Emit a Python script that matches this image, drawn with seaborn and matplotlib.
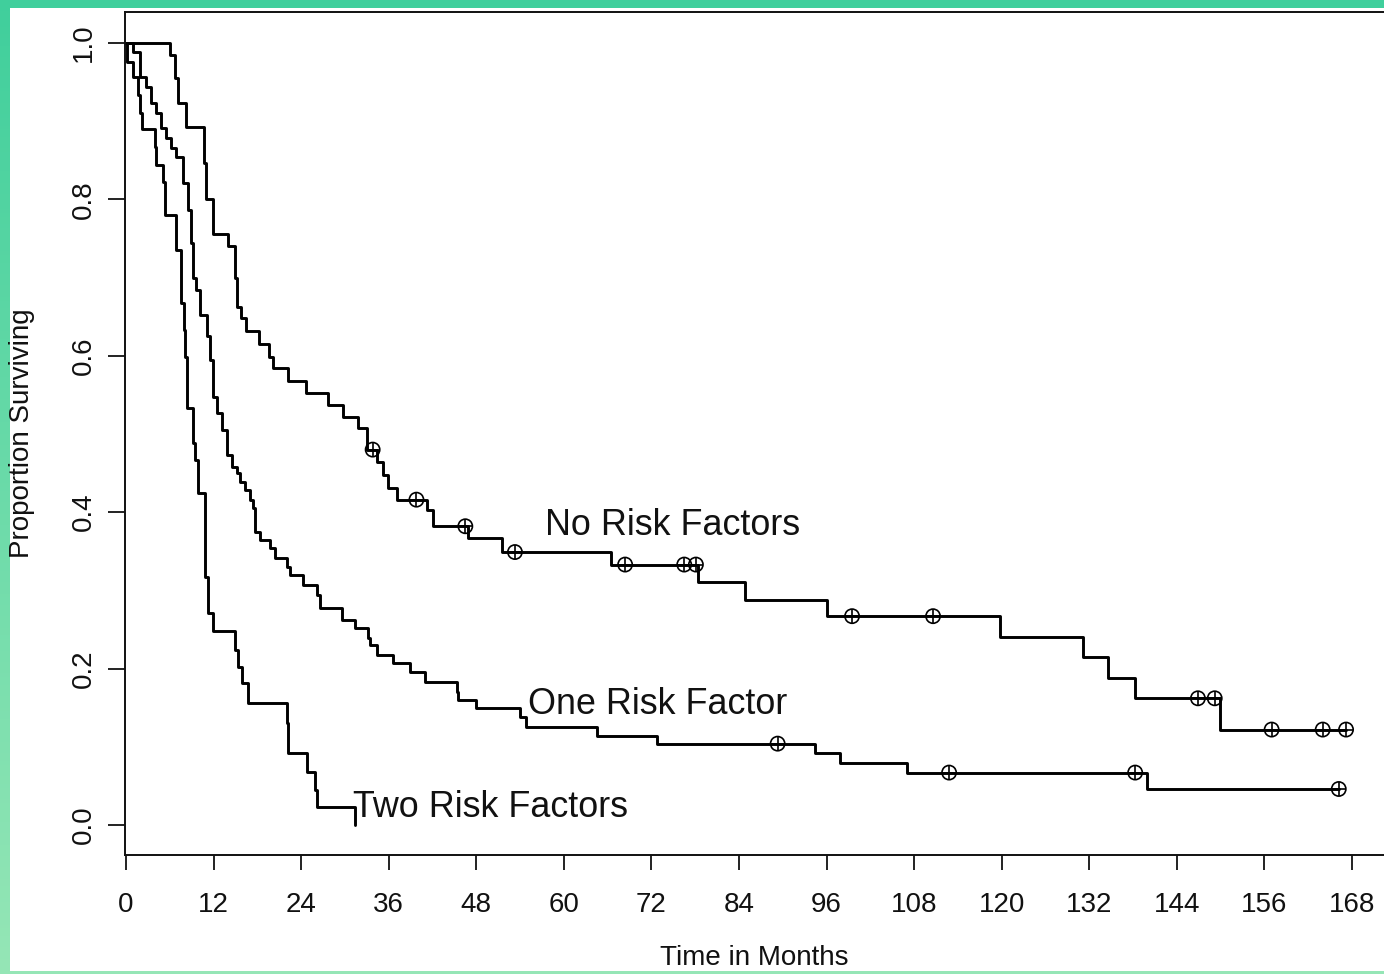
import numpy as np
import pandas as pd
import matplotlib
matplotlib.use('Agg')
import matplotlib.pyplot as plt
import seaborn as sns
from matplotlib.patches import Rectangle

# Kaplan-Meier steps (months, proportion surviving)
none_time = [0, 6.0, 6.7, 7.1, 8.2, 10.7, 11.0, 11.9, 14.0, 14.9, 15.2, 15.8, 16.5,
             18.2, 19.6, 20.1, 22.2, 24.7, 27.7, 29.7, 31.8, 33.0, 34.4, 35.2, 35.9,
             37.1, 41.2, 42.1, 46.9, 51.5, 66.5, 78.4, 84.8, 96.1, 119.8, 131.1,
             134.6, 138.3, 149.9, 167.2]
none_surv = [1.0, 0.985, 0.955, 0.923, 0.893, 0.846, 0.80, 0.756, 0.74, 0.70, 0.662,
             0.648, 0.632, 0.615, 0.599, 0.584, 0.568, 0.552, 0.537, 0.522, 0.508,
             0.480, 0.464, 0.447, 0.431, 0.416, 0.403, 0.382, 0.367, 0.349, 0.333,
             0.311, 0.288, 0.267, 0.241, 0.215, 0.188, 0.162, 0.122, 0.122]
none_cens_time = [33.8, 39.8, 46.5, 53.3, 68.4, 76.5, 78.1, 99.5, 110.6, 146.9,
                  149.2, 157.0, 164.0, 167.2]
none_cens_surv = [0.480, 0.416, 0.382, 0.349, 0.333, 0.333, 0.333, 0.267, 0.267,
                  0.162, 0.162, 0.122, 0.122, 0.122]

one_time = [0, 1.0, 1.9, 2.7, 3.4, 4.1, 4.8, 5.5, 6.2, 6.8, 7.8, 8.5, 8.9, 9.2, 9.6,
            10.1, 11.1, 11.5, 11.9, 12.5, 13.2, 13.8, 14.5, 15.2, 15.6, 16.3, 17.0,
            17.4, 17.7, 18.4, 19.7, 20.4, 22.1, 22.5, 24.3, 26.2, 26.6, 29.6, 31.4,
            33.2, 33.4, 34.4, 36.6, 38.9, 41.0, 45.3, 45.5, 47.9, 54.0, 54.8, 64.5,
            72.8, 94.4, 97.8, 107.0, 139.9, 166.2]
one_surv = [1.0, 0.988, 0.957, 0.944, 0.923, 0.910, 0.891, 0.878, 0.866, 0.854,
            0.821, 0.786, 0.744, 0.70, 0.684, 0.652, 0.625, 0.595, 0.547, 0.527,
            0.505, 0.473, 0.458, 0.450, 0.439, 0.428, 0.416, 0.405, 0.375, 0.364,
            0.354, 0.341, 0.330, 0.320, 0.307, 0.294, 0.277, 0.262, 0.252, 0.239,
            0.230, 0.217, 0.207, 0.196, 0.183, 0.170, 0.160, 0.149, 0.138, 0.125,
            0.114, 0.104, 0.092, 0.079, 0.067, 0.046, 0.046]
one_cens_time = [89.3, 112.8, 138.3, 166.2]
one_cens_surv = [0.104, 0.067, 0.067, 0.046]

two_time = [0, 0.1, 1.0, 1.6, 1.9, 2.2, 4.0, 4.1, 5.1, 5.3, 6.8, 7.5, 7.9, 8.1, 8.4,
            9.2, 9.5, 9.9, 10.8, 11.2, 11.9, 14.9, 15.3, 15.9, 16.7, 22.0, 22.2,
            24.8, 25.9, 26.2, 31.4]
two_surv = [1.0, 0.976, 0.957, 0.933, 0.910, 0.890, 0.867, 0.844, 0.822, 0.780,
            0.735, 0.668, 0.633, 0.599, 0.533, 0.488, 0.467, 0.424, 0.317, 0.271,
            0.248, 0.224, 0.202, 0.182, 0.156, 0.130, 0.092, 0.068, 0.045, 0.023, 0.0]

groups = ['No Risk Factors', 'One Risk Factor', 'Two Risk Factors']
label_x = [57.4, 55.1, 31.1]
label_y = [0.383, 0.154, 0.022]
x_ticks = list(range(0, 169, 12))
y_ticks = [0.0, 0.2, 0.4, 0.6, 0.8, 1.0]

curves = pd.concat([
    pd.DataFrame({'month': none_time, 'surv': none_surv, 'group': groups[0]}),
    pd.DataFrame({'month': one_time, 'surv': one_surv, 'group': groups[1]}),
    pd.DataFrame({'month': two_time, 'surv': two_surv, 'group': groups[2]}),
])
censored = pd.concat([
    pd.DataFrame({'month': none_cens_time, 'surv': none_cens_surv, 'group': groups[0]}),
    pd.DataFrame({'month': one_cens_time, 'surv': one_cens_surv, 'group': groups[1]}),
])

sns.set_style('white')
plt.rcParams['font.family'] = ['Liberation Sans', 'DejaVu Sans']

W, H = 1384, 974
fig = plt.figure(figsize=(W / 100, H / 100), dpi=100)

# green scan border
bg = fig.add_axes([0, 0, 1, 1], zorder=-10)
grad = np.linspace(0, 1, 256).reshape(-1, 1)
top_c = np.array([0x40, 0xcf, 0x9c]) / 255
bot_c = np.array([0x95, 0xe6, 0xb6]) / 255
img = top_c[None, None, :] * (1 - grad[:, :, None]) + bot_c[None, None, :] * grad[:, :, None]
bg.imshow(img, aspect='auto', extent=[0, 1, 0, 1])
bg.add_patch(Rectangle((10 / W, 3 / H), 1, 1 - 11 / H, facecolor='white', edgecolor='none'))
bg.set_xlim(0, 1)
bg.set_ylim(0, 1)
bg.axis('off')

ax = fig.add_axes([125 / W, 1 - 855 / H, 1 - 125 / W, (855 - 12) / H])
ax.set_facecolor('none')

sns.lineplot(data=curves, x='month', y='surv', hue='group', units='group',
             estimator=None, sort=False, palette=['black'] * 3, legend=False,
             drawstyle='steps-post', linewidth=2.1, ax=ax)
sns.scatterplot(data=censored, x='month', y='surv', marker='o', s=105,
                facecolor='none', edgecolor='black', linewidth=1.2, zorder=5, ax=ax)
sns.scatterplot(data=censored, x='month', y='surv', marker='+', s=105,
                color='black', linewidth=1.2, zorder=5, ax=ax)

for name, tx, ty in zip(groups, label_x, label_y):
    ax.text(tx, ty, name, fontsize=25.8, ha='left', va='center', color='#111111')

ax.set_xlim(-0.14, 172.4)
ax.set_ylim(-0.0384, 1.0396)
ax.set_xticks(x_ticks)
ax.set_yticks(y_ticks)
ax.set_yticklabels([f'{v:.1f}' for v in y_ticks], rotation=90, va='center')
ax.tick_params(axis='x', direction='out', length=11, width=1.3, pad=16,
               labelsize=20, bottom=True, colors='#111111')
ax.tick_params(axis='y', direction='out', length=12, width=1.3, pad=8,
               labelsize=20, left=True, colors='#111111')
for side in ['left', 'bottom', 'top']:
    ax.spines[side].set_visible(True)
    ax.spines[side].set_color('#111111')
    ax.spines[side].set_linewidth(1.4)
ax.spines['right'].set_visible(False)

ax.set_xlabel('Time in Months', fontsize=20, labelpad=19, color='#111111')
ax.set_ylabel('Proportion Surviving', fontsize=20, labelpad=26, color='#111111')

fig.savefig('out.png', dpi=100)
